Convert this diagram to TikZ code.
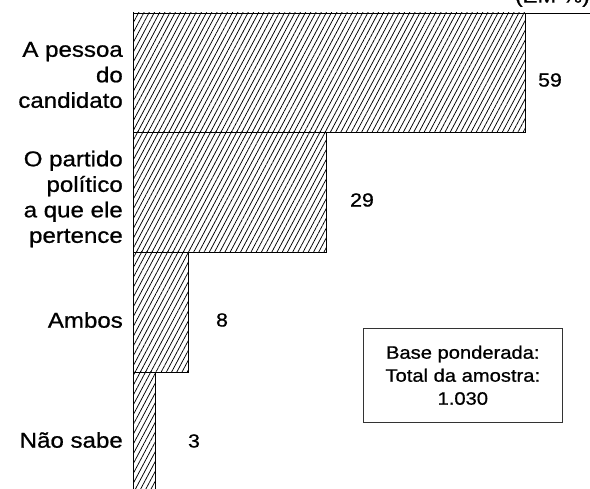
\documentclass[tikz,border=0pt]{standalone}
\usepackage{fontspec}
\setmainfont{Liberation Sans}[FakeStretch=1.12,FakeBold=0.8]
\usetikzlibrary{patterns.meta}
\tikzset{
  bar/.style={draw=black, line width=0.8pt, inner sep=0pt, outer sep=0pt, anchor=north west,
    pattern={Lines[angle=62,distance=4.6pt,line width=0.75pt]}, pattern color=black},
  lbl/.style={align=right, anchor=east, inner sep=0pt, font=\fontsize{21.5}{25.5}\selectfont},
  val/.style={inner sep=0pt, font=\fontsize{19}{22}\selectfont},
  infobox/.style={draw=black!80, line width=0.6pt, inner sep=0pt, minimum width=199pt, minimum height=94pt, align=center, font=\fontsize{18}{23}\selectfont}
}
\begin{document}
\begin{tikzpicture}[x=1pt,y=-1pt]
\useasboundingbox (0,0) rectangle (590,489);
\node[anchor=south east, inner sep=0pt, font=\fontsize{20}{24}\selectfont] (unit) at (590,7) {(EM \%)};
\node[bar, minimum width=392pt, minimum height=119pt] (b1) at (133,13) {};
\node[bar, minimum width=193pt, minimum height=120pt] (b2) at (133,132) {};
\node[bar, minimum width=55pt, minimum height=120pt] (b3) at (133,252) {};
\node[bar, minimum width=22pt, minimum height=130pt] (b4) at (133,372) {};
\coordinate (topend) at (590,13);
\draw[line width=0.8pt] (b1.north west) -- (topend);
\node[lbl] (l1) at (123,75) {A pessoa\\do\\candidato};
\node[lbl] (l2) at (123,199) {O partido\\político\\a que ele\\pertence};
\node[lbl] (l3) at (123,320) {Ambos};
\node[lbl] (l4) at (123,440) {Não sabe};
\node[val] (v1) at (550,80) {59};
\node[val] (v2) at (362,200) {29};
\node[val] (v3) at (222,320) {8};
\node[val] (v4) at (194,441) {3};
\node[infobox, anchor=north west] (info) at (363,328) {Base ponderada:\\Total da amostra:\\1.030};
\end{tikzpicture}
\end{document}
